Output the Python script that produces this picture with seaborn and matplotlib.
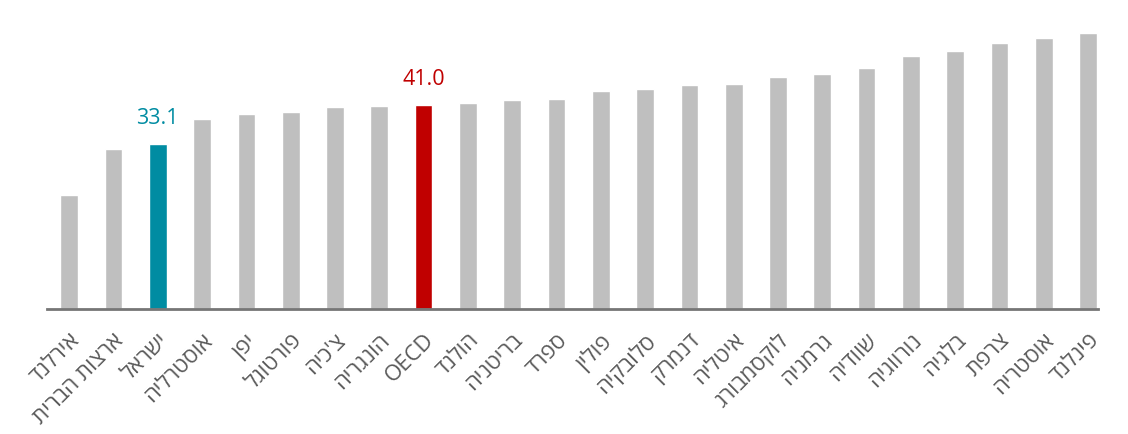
import pandas as pd
import matplotlib.pyplot as plt
import seaborn as sns
import numpy as np

# données
countries = ["אירלנד", "ארצות הברית", "ישראל", "אוסטרליה", "יפן", "פורטוגל", "צ'כיה",
             "הונגריה", "OECD", "הולנד", "בריטניה", "ספרד", "פולין", "סלובקיה", "דנמרק",
             "איטליה", "לוקסמבורג", "גרמניה", "שוודיה", "נורווגיה", "בלגיה", "צרפת",
             "אוסטריה", "פינלנד"]
values = [23.0, 32.1, 33.1, 38.1, 39.1, 39.6, 40.5, 40.8, 41.0, 41.5, 42.0, 42.3, 43.9,
          44.3, 45.0, 45.3, 46.6, 47.2, 48.5, 50.9, 51.8, 53.4, 54.4, 55.4]
highlight = {"ישראל": "#008CA2", "OECD": "#C00000"}
grey = "#BFBFBF"


def visual(s):
    # matplotlib ne gère pas le bidi : on inverse le texte hébreu
    if s.isascii():
        return s
    return s[::-1]


df = pd.DataFrame({"country": countries, "value": values})
colors = [highlight.get(c, grey) for c in countries]

sns.set_theme(style="white")
plt.rcParams['font.family'] = ['Open Sans', 'DejaVu Sans']

fig = plt.figure(figsize=(11.28, 4.34), dpi=100)
ax = fig.add_axes([0.0417, 0.288, 0.932, 0.665])
sns.barplot(data=df, x="country", y="value", hue="country", palette=colors,
            width=0.4, legend=False, ax=ax, saturation=1)

ax.set_ylim(0, 58)
ax.set_xlim(-0.5, 23.23)
for s in ["top", "right", "left"]:
    ax.spines[s].set_visible(False)
ax.spines["bottom"].set_color("#767676")
ax.spines["bottom"].set_linewidth(2)
ax.set_yticks([])
ax.set_xlabel("")
ax.set_ylabel("")

ax.set_xticks(range(len(countries)))
ax.set_xticklabels([visual(c) for c in countries], rotation=45, ha="right",
                   va="top", rotation_mode="anchor", fontsize=16, color="#595959")
ax.tick_params(axis="x", length=0, pad=15)

for i, c in enumerate(countries):
    if c in highlight:
        ax.text(i, values[i] + 3, f"{values[i]:.1f}", ha="center", va="bottom",
                fontsize=15.5, color=highlight[c])

plt.savefig("out.png", dpi=100)
